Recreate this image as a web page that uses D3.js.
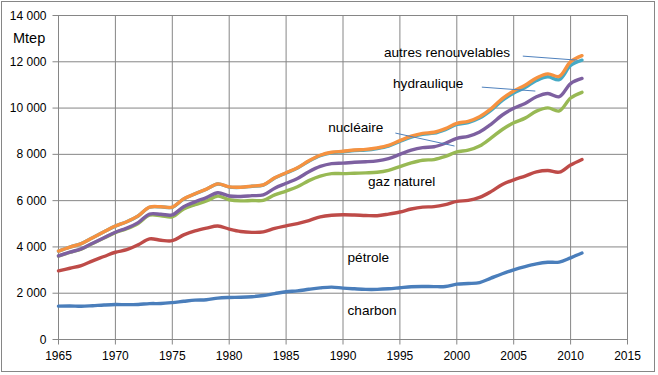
<!DOCTYPE html>
<html lang="fr">
<head>
    <meta charset="UTF-8">
    <title>Consommation mondiale d'énergie primaire</title>
    <script src="https://d3js.org/d3.v7.min.js"></script>
    <style>
        body { margin: 0; background: #fff; }
        text { font-family: "Liberation Sans", Arial, sans-serif; fill: #000; }
    </style>
</head>
<body>
    <div id="chart"></div>

    <script>
        // Années (catégories)
        const years = d3.range(1965, 2012);

        // Consommation par source, Mtep (les courbes sont cumulées)
        const charbon = [1440, 1450, 1435, 1460, 1490, 1510, 1505, 1515, 1550, 1555,
            1595, 1650, 1700, 1720, 1790, 1815, 1825, 1850, 1900, 1985,
            2065, 2100, 2170, 2230, 2265, 2220, 2190, 2165, 2165, 2190,
            2235, 2280, 2290, 2285, 2290, 2390, 2420, 2460, 2650, 2840,
            3010, 3150, 3265, 3335, 3345, 3530, 3735];
        const petrole = [1525, 1630, 1760, 1940, 2095, 2260, 2375, 2575, 2795, 2735,
            2675, 2870, 2990, 3090, 3115, 2955, 2840, 2780, 2750, 2815,
            2845, 2910, 2970, 3070, 3105, 3170, 3190, 3195, 3185, 3230,
            3275, 3360, 3430, 3455, 3540, 3580, 3590, 3680, 3740, 3860,
            3890, 3910, 3975, 3965, 3885, 4010, 4045];
        const gaz = [641, 684, 711, 748, 801, 847, 905, 925, 1029, 1060,
            1031, 1123, 1137, 1175, 1288, 1269, 1324, 1376, 1364, 1450,
            1505, 1589, 1724, 1760, 1800, 1777, 1805, 1840, 1875, 1891,
            1964, 1994, 2027, 2035, 2079, 2136, 2169, 2219, 2311, 2375,
            2463, 2505, 2628, 2710, 2646, 2894, 2901];
        const nucleaire = [6, 8, 9, 12, 14, 18, 25, 35, 46, 60,
            84, 97, 123, 145, 147, 161, 191, 209, 236, 290,
            335, 361, 386, 418, 430, 453, 475, 480, 495, 509,
            526, 546, 543, 555, 571, 584, 601, 611, 599, 625,
            627, 635, 622, 620, 614, 626, 599];
        const hydraulique = [208, 222, 228, 238, 252, 266, 278, 288, 295, 321,
            329, 333, 342, 365, 380, 387, 393, 405, 422, 434,
            444, 450, 455, 466, 468, 490, 505, 506, 530, 538,
            562, 569, 580, 585, 591, 601, 592, 597, 599, 634,
            661, 688, 698, 723, 736, 778, 791];
        const autres = [1, 1, 1, 1, 2, 2, 2, 3, 3, 4,
            4, 4, 5, 5, 6, 6, 7, 8, 9, 11,
            13, 14, 16, 17, 21, 24, 25, 27, 28, 30,
            32, 34, 37, 40, 43, 51, 55, 62, 68, 78,
            87, 97, 111, 125, 142, 168, 194];

        const keys = ["charbon", "pétrole", "gaz naturel", "nucléaire", "hydraulique", "autres renouvelables"];
        const colors = ["#4A7EBB", "#BE4B48", "#98B954", "#7D60A0", "#46AAC5", "#F69240"];
        const yTicks = [0, 2000, 4000, 6000, 8000, 10000, 12000, 14000];
        const xTicks = [1965, 1970, 1975, 1980, 1985, 1990, 1995, 2000, 2005, 2010, 2015];

        // Étiquettes posées en coordonnées de données
        const labels = [
            { text: "autres renouvelables", x: 1993.6, y: 12200, line: [[2005.8, 12245], [2010.6, 12070]] },
            { text: "hydraulique", x: 1994.4, y: 10860, line: [[2002.2, 10905], [2006.9, 10735]] },
            { text: "nucléaire", x: 1988.7, y: 8960, line: [[1994.6, 8920], [1999.8, 8360]] },
            { text: "gaz naturel", x: 1992.2, y: 6630 },
            { text: "pétrole", x: 1990.4, y: 3350 },
            { text: "charbon", x: 1990.4, y: 1065 }
        ];

        const width = 658;
        const height = 375;

        const rows = years.map((yr, i) => ({
            year: yr,
            "charbon": charbon[i],
            "pétrole": petrole[i],
            "gaz naturel": gaz[i],
            "nucléaire": nucleaire[i],
            "hydraulique": hydraulique[i],
            "autres renouvelables": autres[i]
        }));
        const series = d3.stack().keys(keys)(rows);

        const x = d3.scaleLinear().domain([1965, 2015]).range([58.5, 627.5]);
        const y = d3.scaleLinear().domain([0, 14000]).range([339.5, 15.5]);

        const fr = d3.formatLocale({ decimal: ",", thousands: " ", grouping: [3], currency: ["", " €"] });
        const fmt = fr.format(",d");

        const svg = d3.select("#chart")
            .append("svg")
            .attr("width", width)
            .attr("height", height);

        // cadre extérieur
        svg.append("rect")
            .attr("x", 1.5).attr("y", 1.5)
            .attr("width", 653).attr("height", 370)
            .attr("fill", "none")
            .attr("stroke", "#868686");

        // grille
        svg.append("g")
            .selectAll("line.h")
            .data(yTicks)
            .join("line")
            .attr("x1", x(1965) - 6).attr("x2", x(2015))
            .attr("y1", d => y(d)).attr("y2", d => y(d))
            .attr("stroke", "#868686");

        svg.append("g")
            .selectAll("line.v")
            .data(xTicks)
            .join("line")
            .attr("x1", d => x(d)).attr("x2", d => x(d))
            .attr("y1", y(14000)).attr("y2", y(0) + 5)
            .attr("stroke", "#868686");

        // libellés des axes
        svg.append("g")
            .selectAll("text")
            .data(yTicks)
            .join("text")
            .attr("x", x(1965) - 12)
            .attr("y", d => y(d) + 4)
            .attr("text-anchor", "end")
            .style("font-size", "12px")
            .text(d => fmt(d));

        svg.append("g")
            .selectAll("text")
            .data(xTicks)
            .join("text")
            .attr("x", d => x(d))
            .attr("y", y(0) + 20)
            .attr("text-anchor", "middle")
            .style("font-size", "12px")
            .text(d => d);

        svg.append("text")
            .attr("x", 13).attr("y", 43)
            .style("font-size", "14.5px")
            .text("Mtep");

        // courbes cumulées
        const line = d3.line()
            .x(d => x(d.data.year))
            .y(d => y(d[1]))
            .curve(d3.curveCatmullRom.alpha(0.5));

        svg.append("g")
            .selectAll("path")
            .data(series)
            .join("path")
            .attr("d", d => line(d))
            .attr("fill", "none")
            .attr("stroke", (d, i) => colors[i])
            .attr("stroke-width", 3.4)
            .attr("stroke-linejoin", "round")
            .attr("stroke-linecap", "round");

        // étiquettes et traits de rappel
        const lab = svg.append("g");
        labels.filter(d => d.line).forEach(d => {
            lab.append("line")
                .attr("x1", x(d.line[0][0])).attr("y1", y(d.line[0][1]))
                .attr("x2", x(d.line[1][0])).attr("y2", y(d.line[1][1]))
                .attr("stroke", "#4F81BD")
                .attr("stroke-width", 1);
        });
        lab.selectAll("text")
            .data(labels)
            .join("text")
            .attr("x", d => x(d.x))
            .attr("y", d => y(d.y))
            .style("font-size", "13.6px")
            .text(d => d.text);
    </script>
</body>
</html>
